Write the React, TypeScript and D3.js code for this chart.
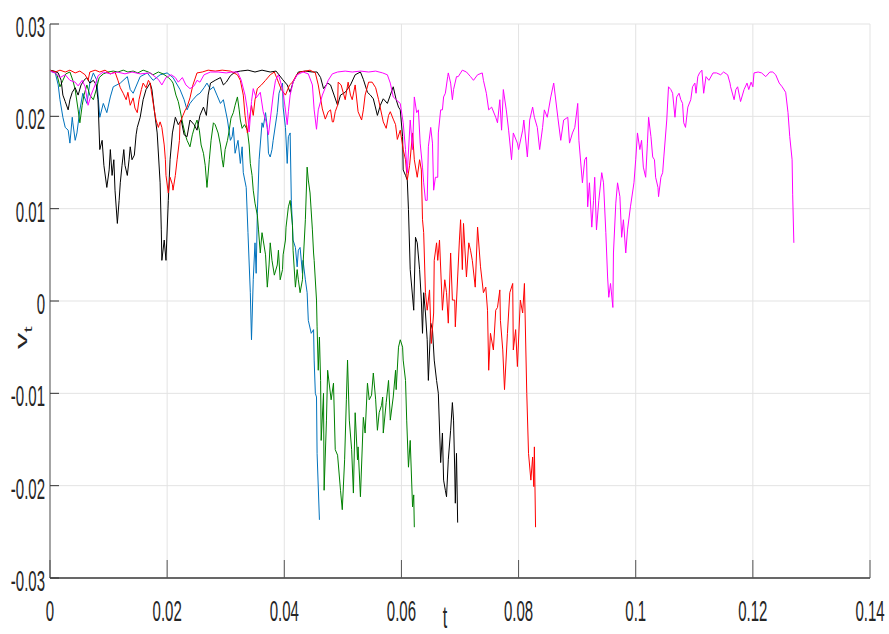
import React from "react";
import * as d3 from "d3";

const xTicks = [0, 0.02, 0.04, 0.06, 0.08, 0.1, 0.12, 0.14];
const xTickLabels = ["0", "0.02", "0.04", "0.06", "0.08", "0.1", "0.12", "0.14"];
const yTicks = [-0.03, -0.02, -0.01, 0, 0.01, 0.02, 0.03];
const yTickLabels = ["-0.03", "-0.02", "-0.01", "0", "0.01", "0.02", "0.03"];

const blackSeries: [number, number][] = [
  [0, .0250], [.0007, .0249], [.0014, .0247], [.0019, .0239], [.0022, .0223], [.0026, .0216], [.0031, .0207], [.0034, .0218], [.0038, .0226], [.0043, .0231], [.0048, .0223], [.0053, .0234], [.0058, .0239], [.0063, .0242], [.0068, .0236], [.0074, .0239], [.0079, .0234], [.0082, .0218], [.0085, .0164], [.0089, .0174], [.0092, .0147], [.0097, .0123], [.0101, .0142], [.0103, .0164], [.0106, .0136], [.0109, .0153], [.0111, .0120], [.0115, .0084], [.0118, .0109], [.0120, .0128], [.0123, .0147], [.0126, .0164], [.0128, .0147], [.0132, .0136], [.0135, .0153], [.0137, .0167], [.0140, .0153], [.0144, .0158], [.0147, .0180], [.0149, .0188], [.0154, .0199], [.0159, .0218], [.0164, .0229], [.0171, .0236], [.0174, .0229], [.0178, .0207], [.0183, .0182], [.0188, .0128], [.0190, .0077], [.0191, .0044], [.0195, .0066], [.0198, .0044], [.0202, .0109], [.0205, .0153], [.0209, .0182], [.0214, .0199], [.0219, .0191], [.0224, .0196], [.0229, .0180], [.0234, .0178], [.0239, .0196], [.0246, .0191], [.0251, .0185], [.0256, .0201], [.0262, .0210], [.0267, .0201], [.0270, .0223], [.0274, .0236], [.0282, .0239], [.0291, .0242], [.0296, .0234], [.0301, .0237], [.0308, .0244], [.0316, .0248], [.0325, .0249], [.0338, .0250], [.0350, .0248], [.0362, .0250], [.0376, .0248], [.0386, .0249], [.0397, .0240], [.0405, .0234], [.0410, .0226], [.0415, .0237], [.0424, .0248], [.0436, .0249], [.0448, .0248], [.0456, .0248], [.0462, .0242], [.0467, .0230], [.0474, .0236], [.0479, .0234], [.0485, .0223], [.0491, .0212], [.0496, .0223], [.0504, .0226], [.0513, .0234], [.0521, .0245], [.0530, .0248], [.0535, .0240], [.0542, .0226], [.0547, .0223], [.0552, .0219], [.0559, .0201], [.0564, .0212], [.0569, .0219], [.0576, .0214], [.0581, .0223], [.0586, .0232], [.0591, .0218], [.0595, .0210], [.0598, .0207], [.0602, .0178], [.0603, .0142], [.0607, .0136], [.0610, .0131], [.0612, .0099], [.0615, .0034], [.0621, -.0010], [.0624, .0069], [.0627, .0063], [.0631, .0034], [.0634, .0001], [.0636, -.0035], [.0638, .0009], [.0641, -.0013], [.0644, -.0042], [.0646, -.0086], [.0650, -.0024], [.0653, -.0031], [.0656, -.0064], [.0660, -.0086], [.0663, -.0100], [.0667, -.0175], [.0670, -.0143], [.0672, -.0194], [.0675, -.0205], [.0677, -.0212], [.0680, -.0172], [.0684, -.0140], [.0687, -.0110], [.0689, -.0129], [.0691, -.0183], [.0692, -.0219], [.0694, -.0165], [.0696, -.0240]
];

const redSeries: [number, number][] = [
  [0, .0250], [.0009, .0248], [.0017, .0250], [.0026, .0248], [.0034, .0250], [.0043, .0247], [.0051, .0249], [.0060, .0245], [.0065, .0239], [.0068, .0248], [.0077, .0250], [.0085, .0248], [.0094, .0250], [.0103, .0246], [.0111, .0248], [.0116, .0239], [.0120, .0231], [.0125, .0225], [.0130, .0218], [.0133, .0226], [.0137, .0212], [.0142, .0220], [.0145, .0209], [.0149, .0204], [.0152, .0218], [.0156, .0229], [.0159, .0236], [.0164, .0231], [.0168, .0239], [.0171, .0236], [.0174, .0223], [.0178, .0207], [.0181, .0196], [.0185, .0188], [.0188, .0194], [.0191, .0188], [.0195, .0169], [.0197, .0153], [.0198, .0136], [.0202, .0117], [.0205, .0134], [.0209, .0126], [.0210, .0120], [.0214, .0136], [.0217, .0153], [.0221, .0174], [.0222, .0193], [.0227, .0201], [.0231, .0207], [.0234, .0210], [.0239, .0220], [.0244, .0234], [.0251, .0247], [.0260, .0248], [.0270, .0250], [.0282, .0249], [.0294, .0250], [.0308, .0249], [.0320, .0245], [.0325, .0239], [.0330, .0223], [.0333, .0201], [.0337, .0182], [.0340, .0196], [.0344, .0212], [.0347, .0201], [.0350, .0218], [.0354, .0230], [.0361, .0234], [.0368, .0239], [.0376, .0245], [.0383, .0248], [.0390, .0237], [.0395, .0229], [.0402, .0223], [.0409, .0234], [.0414, .0237], [.0421, .0245], [.0427, .0248], [.0436, .0249], [.0444, .0250], [.0453, .0247], [.0458, .0234], [.0465, .0208], [.0470, .0197], [.0475, .0205], [.0479, .0207], [.0482, .0194], [.0484, .0194], [.0487, .0205], [.0491, .0212], [.0492, .0237], [.0497, .0234], [.0504, .0218], [.0509, .0237], [.0513, .0223], [.0516, .0218], [.0521, .0234], [.0526, .0205], [.0532, .0196], [.0535, .0207], [.0538, .0223], [.0544, .0237], [.0550, .0237], [.0556, .0231], [.0561, .0218], [.0564, .0209], [.0569, .0194], [.0574, .0187], [.0578, .0201], [.0581, .0205], [.0586, .0197], [.0590, .0191], [.0593, .0175], [.0598, .0185], [.0603, .0164], [.0607, .0153], [.0610, .0131], [.0614, .0147], [.0619, .0182], [.0622, .0153], [.0627, .0134], [.0631, .0153], [.0634, .0142], [.0636, .0088], [.0638, .0074], [.0641, .0009], [.0644, -.0010], [.0648, .0012], [.0651, -.0046], [.0655, -.0013], [.0656, .0044], [.0660, .0063], [.0662, .0044], [.0665, .0066], [.0670, -.0010], [.0674, .0023], [.0677, .0009], [.0680, -.0024], [.0684, .0052], [.0687, .0001], [.0691, .0001], [.0692, -.0028], [.0696, .0026], [.0699, .0066], [.0701, .0088], [.0704, .0034], [.0706, .0084], [.0711, .0026], [.0715, .0063], [.0718, .0055], [.0721, .0044], [.0726, .0015], [.0730, .0080], [.0735, .0037], [.0740, .0009], [.0744, .0015], [.0747, -.0010], [.0749, -.0075], [.0752, -.0035], [.0757, -.0053], [.0761, -.0010], [.0764, -.0007], [.0768, .0012], [.0769, -.0021], [.0773, -.0053], [.0776, -.0096], [.0781, -.0035], [.0785, .0009], [.0790, .0019], [.0791, -.0053], [.0795, -.0031], [.0798, -.0071], [.0803, .0001], [.0807, -.0013], [.0810, .0019], [.0814, -.0100], [.0817, -.0165], [.0821, -.0194], [.0824, -.0169], [.0826, -.0201], [.0827, -.0158], [.0829, -.0245]
];

const greenSeries: [number, number][] = [
  [0, .0250], [.0007, .0248], [.0012, .0245], [.0017, .0232], [.0022, .0239], [.0027, .0246], [.0034, .0248], [.0039, .0239], [.0043, .0229], [.0048, .0207], [.0051, .0193], [.0055, .0212], [.0058, .0223], [.0063, .0234], [.0068, .0223], [.0074, .0218], [.0079, .0229], [.0084, .0242], [.0091, .0246], [.0099, .0248], [.0108, .0249], [.0116, .0248], [.0125, .0250], [.0133, .0248], [.0142, .0249], [.0150, .0247], [.0159, .0250], [.0168, .0248], [.0176, .0245], [.0185, .0248], [.0193, .0246], [.0202, .0242], [.0207, .0239], [.0210, .0236], [.0215, .0223], [.0219, .0216], [.0222, .0207], [.0227, .0191], [.0231, .0180], [.0234, .0174], [.0239, .0167], [.0243, .0180], [.0248, .0191], [.0251, .0196], [.0255, .0185], [.0258, .0169], [.0262, .0160], [.0265, .0147], [.0268, .0123], [.0272, .0153], [.0275, .0174], [.0279, .0193], [.0282, .0191], [.0287, .0182], [.0291, .0169], [.0294, .0153], [.0296, .0145], [.0299, .0164], [.0303, .0174], [.0306, .0185], [.0309, .0198], [.0313, .0204], [.0316, .0212], [.0320, .0221], [.0323, .0207], [.0325, .0196], [.0328, .0187], [.0332, .0191], [.0337, .0185], [.0340, .0169], [.0342, .0149], [.0345, .0136], [.0347, .0120], [.0350, .0106], [.0354, .0093], [.0356, .0077], [.0359, .0052], [.0362, .0074], [.0364, .0066], [.0368, .0050], [.0371, .0015], [.0374, .0039], [.0376, .0063], [.0379, .0044], [.0383, .0028], [.0388, .0039], [.0390, .0055], [.0393, .0023], [.0397, .0034], [.0398, .0050], [.0402, .0066], [.0403, .0080], [.0407, .0102], [.0410, .0109], [.0414, .0082], [.0415, .0055], [.0419, .0015], [.0422, .0034], [.0424, .0023], [.0427, .0009], [.0431, .0023], [.0432, .0039], [.0436, .0088], [.0439, .0145], [.0441, .0131], [.0444, .0117], [.0448, .0077], [.0450, .0052], [.0451, .0044], [.0455, .0001], [.0456, -.0028], [.0458, -.0075], [.0460, -.0039], [.0462, -.0086], [.0463, -.0151], [.0467, -.0100], [.0468, -.0205], [.0472, -.0129], [.0474, -.0075], [.0477, -.0091], [.0480, -.0107], [.0484, -.0089], [.0487, -.0161], [.0491, -.0167], [.0496, -.0205], [.0499, -.0226], [.0503, -.0172], [.0506, -.0107], [.0508, -.0064], [.0511, -.0129], [.0515, -.0161], [.0518, -.0208], [.0521, -.0121], [.0525, -.0172], [.0526, -.0158], [.0530, -.0212], [.0535, -.0126], [.0538, -.0143], [.0542, -.0089], [.0545, -.0107], [.0549, -.0102], [.0552, -.0078], [.0556, -.0107], [.0559, -.0140], [.0562, -.0121], [.0566, -.0113], [.0568, -.0104], [.0569, -.0143], [.0574, -.0110], [.0578, -.0086], [.0581, -.0129], [.0586, -.0104], [.0590, -.0075], [.0591, -.0096], [.0595, -.0050], [.0598, -.0042], [.0602, -.0050], [.0603, -.0064], [.0607, -.0086], [.0609, -.0129], [.0612, -.0180], [.0615, -.0151], [.0619, -.0223], [.0621, -.0210], [.0622, -.0245]
];

const blueSeries: [number, number][] = [
  [0, .0249], [.0009, .0247], [.0014, .0234], [.0017, .0218], [.0022, .0199], [.0026, .0188], [.0031, .0185], [.0034, .0171], [.0038, .0199], [.0039, .0193], [.0043, .0174], [.0046, .0182], [.0051, .0207], [.0056, .0225], [.0063, .0214], [.0068, .0236], [.0074, .0247], [.0080, .0239], [.0085, .0199], [.0091, .0214], [.0097, .0204], [.0103, .0221], [.0108, .0232], [.0120, .0236], [.0132, .0243], [.0137, .0229], [.0142, .0225], [.0154, .0243], [.0166, .0247], [.0176, .0239], [.0188, .0245], [.0200, .0247], [.0210, .0242], [.0222, .0229], [.0229, .0218], [.0234, .0207], [.0239, .0214], [.0244, .0218], [.0251, .0223], [.0256, .0225], [.0263, .0231], [.0268, .0236], [.0274, .0229], [.0279, .0232], [.0285, .0223], [.0291, .0214], [.0296, .0218], [.0303, .0196], [.0308, .0174], [.0311, .0178], [.0313, .0188], [.0316, .0160], [.0321, .0174], [.0325, .0149], [.0328, .0167], [.0330, .0139], [.0335, .0123], [.0338, .0074], [.0342, .0009], [.0344, -.0042], [.0347, .0023], [.0350, .0063], [.0352, .0030], [.0354, .0095], [.0357, .0153], [.0362, .0193], [.0364, .0188], [.0368, .0204], [.0371, .0188], [.0373, .0160], [.0376, .0156], [.0379, .0164], [.0381, .0174], [.0388, .0204], [.0391, .0225], [.0397, .0236], [.0398, .0210], [.0402, .0188], [.0405, .0149], [.0407, .0178], [.0410, .0182], [.0412, .0109], [.0415, .0066], [.0419, .0058], [.0422, .0037], [.0424, .0055], [.0427, .0058], [.0431, .0030], [.0432, .0044], [.0436, .0023], [.0439, .0009], [.0441, -.0021], [.0446, -.0035], [.0450, -.0031], [.0451, -.0064], [.0453, -.0100], [.0455, -.0104], [.0456, -.0165], [.0460, -.0237]
];

const magentaSeries: [number, number][] = [
  [0, .0249], [.0009, .0247], [.0017, .0242], [.0026, .0245], [.0034, .0239], [.0043, .0237], [.0048, .0233], [.0055, .0239], [.0060, .0232], [.0065, .0212], [.0070, .0223], [.0077, .0234], [.0082, .0244], [.0091, .0248], [.0103, .0246], [.0115, .0248], [.0128, .0246], [.0140, .0248], [.0154, .0246], [.0171, .0247], [.0185, .0240], [.0191, .0234], [.0198, .0242], [.0207, .0245], [.0214, .0242], [.0219, .0237], [.0226, .0242], [.0232, .0234], [.0239, .0230], [.0246, .0233], [.0251, .0239], [.0256, .0237], [.0263, .0245], [.0274, .0248], [.0287, .0248], [.0301, .0247], [.0311, .0248], [.0320, .0248], [.0326, .0240], [.0333, .0223], [.0337, .0207], [.0340, .0183], [.0344, .0216], [.0347, .0230], [.0352, .0220], [.0359, .0226], [.0364, .0205], [.0369, .0194], [.0373, .0180], [.0376, .0196], [.0381, .0223], [.0385, .0239], [.0390, .0245], [.0397, .0230], [.0402, .0207], [.0405, .0191], [.0407, .0205], [.0410, .0223], [.0415, .0237], [.0422, .0245], [.0432, .0248], [.0441, .0246], [.0448, .0234], [.0451, .0207], [.0455, .0186], [.0458, .0207], [.0465, .0223], [.0470, .0231], [.0475, .0239], [.0482, .0246], [.0491, .0248], [.0504, .0249], [.0516, .0248], [.0530, .0249], [.0544, .0248], [.0556, .0249], [.0568, .0247], [.0576, .0245], [.0581, .0236], [.0586, .0221], [.0591, .0218], [.0598, .0214], [.0603, .0193], [.0607, .0164], [.0610, .0139], [.0615, .0196], [.0619, .0164], [.0622, .0221], [.0626, .0204], [.0629, .0207], [.0632, .0171], [.0636, .0145], [.0638, .0128], [.0641, .0109], [.0644, .0109], [.0646, .0167], [.0650, .0188], [.0653, .0171], [.0655, .0120], [.0658, .0134], [.0662, .0134], [.0663, .0182], [.0667, .0207], [.0670, .0207], [.0672, .0221], [.0675, .0225], [.0679, .0243], [.0680, .0247], [.0684, .0236], [.0687, .0218], [.0689, .0229], [.0694, .0243], [.0697, .0243], [.0701, .0247], [.0704, .0250], [.0711, .0248], [.0718, .0243], [.0723, .0239], [.0730, .0245], [.0738, .0247], [.0740, .0239], [.0745, .0225], [.0749, .0207], [.0754, .0210], [.0761, .0199], [.0764, .0193], [.0768, .0218], [.0771, .0185], [.0774, .0229], [.0779, .0207], [.0783, .0185], [.0788, .0153], [.0791, .0182], [.0798, .0171], [.0800, .0164], [.0807, .0185], [.0809, .0196], [.0815, .0156], [.0819, .0196], [.0824, .0210], [.0827, .0199], [.0832, .0188], [.0836, .0164], [.0841, .0188], [.0844, .0207], [.0849, .0199], [.0855, .0221], [.0860, .0236], [.0867, .0199], [.0872, .0174], [.0877, .0196], [.0884, .0199], [.0887, .0171], [.0892, .0182], [.0896, .0188], [.0901, .0214], [.0903, .0174], [.0909, .0128], [.0913, .0153], [.0916, .0156], [.0918, .0102], [.0921, .0128], [.0925, .0080], [.0928, .0109], [.0930, .0134], [.0933, .0077], [.0937, .0109], [.0942, .0139], [.0945, .0128], [.0949, .0074], [.0952, .0026], [.0954, .0004], [.0957, .0019], [.0961, -.0007], [.0962, .0052], [.0966, .0106], [.0969, .0128], [.0973, .0113], [.0976, .0069], [.0979, .0088], [.0983, .0052], [.0986, .0077], [.0991, .0102], [.0997, .0128], [.1000, .0153], [.1003, .0182], [.1007, .0164], [.1010, .0174], [.1013, .0145], [.1017, .0134], [.1020, .0171], [.1022, .0199], [.1026, .0178], [.1029, .0156], [.1032, .0153], [.1034, .0134], [.1038, .0123], [.1039, .0113], [.1043, .0134], [.1046, .0139], [.1048, .0156], [.1053, .0196], [.1056, .0232], [.1060, .0229], [.1063, .0225], [.1067, .0199], [.1070, .0221], [.1074, .0225], [.1077, .0218], [.1080, .0214], [.1082, .0193], [.1085, .0188], [.1089, .0210], [.1094, .0218], [.1097, .0232], [.1101, .0236], [.1103, .0225], [.1106, .0243], [.1109, .0247], [.1113, .0250], [.1116, .0225], [.1120, .0243], [.1125, .0239], [.1132, .0247], [.1138, .0247], [.1145, .0245], [.1150, .0248], [.1157, .0245], [.1161, .0236], [.1162, .0232], [.1168, .0218], [.1171, .0229], [.1174, .0232], [.1179, .0216], [.1185, .0229], [.1190, .0236], [.1193, .0229], [.1197, .0237], [.1200, .0232], [.1202, .0247], [.1209, .0248], [.1215, .0247], [.1222, .0243], [.1229, .0248], [.1234, .0248], [.1239, .0245], [.1245, .0236], [.1250, .0232], [.1256, .0226], [.1260, .0204], [.1263, .0178], [.1267, .0153], [.1268, .0115], [.1270, .0063]
];

const seriesList = [
  { name: "blue", data: blueSeries, color: "#0072bd" },
  { name: "green", data: greenSeries, color: "#008000" },
  { name: "black", data: blackSeries, color: "#000000" },
  { name: "red", data: redSeries, color: "#ff0000" },
  { name: "magenta", data: magentaSeries, color: "#ff00ff" },
];

const W = 889;
const H = 634;
const left = 50;
const right = 870;
const top = 24;
const bottom = 578;
const FONT = "'Liberation Sans', Arial, sans-serif";
const SQ = 0.5;

export default function App() {
  const x = d3.scaleLinear().domain([0, 0.14]).range([left, right]);
  const y = d3.scaleLinear().domain([-0.03, 0.03]).range([bottom, top]);
  const line = d3
    .line<[number, number]>()
    .x((d) => x(d[0]))
    .y((d) => y(d[1]));

  return (
    <svg
      width={W}
      height={H}
      style={{ position: "absolute", left: 0, top: 0, background: "#fff" }}
    >
      <rect x={0} y={0} width={W} height={H} fill="#fff" />
      {xTicks.map((t) => (
        <line key={"gx" + t} x1={x(t)} x2={x(t)} y1={top} y2={bottom} stroke="#e3e3e3" strokeWidth={1} />
      ))}
      {yTicks.map((t) => (
        <line key={"gy" + t} x1={left} x2={right} y1={y(t)} y2={y(t)} stroke="#e3e3e3" strokeWidth={1} />
      ))}
      {seriesList.map((s) => (
        <path key={s.name} d={line(s.data) || ""} fill="none" stroke={s.color} strokeWidth={1} strokeLinejoin="round" />
      ))}
      <line x1={left} x2={left} y1={top} y2={bottom} stroke="#8a8a8a" strokeWidth={1.5} />
      <line x1={left} x2={right} y1={bottom} y2={bottom} stroke="#3a3a3a" strokeWidth={1.5} />
      {xTicks.map((t) => (
        <line key={"tx" + t} x1={x(t)} x2={x(t)} y1={bottom} y2={bottom - 18} stroke="#555" strokeWidth={1} />
      ))}
      {yTicks.map((t) => (
        <line key={"ty" + t} x1={left} x2={left + 9} y1={y(t)} y2={y(t)} stroke="#333" strokeWidth={1} />
      ))}
      {xTicks.map((t, i) => (
        <g key={"lx" + t} transform={`translate(${x(t)},${621}) scale(${SQ},1)`}>
          <text textAnchor="middle" fontFamily={FONT} fontSize={30} fill="#262626">
            {xTickLabels[i]}
          </text>
        </g>
      ))}
      {yTicks.map((t, i) => (
        <g key={"ly" + t} transform={`translate(${45},${y(t) + 13}) scale(${SQ},1)`}>
          <text textAnchor="end" fontFamily={FONT} fontSize={30} fill="#262626">
            {yTickLabels[i]}
          </text>
        </g>
      ))}
      <g transform={`translate(445,628) scale(${SQ},1)`}>
        <text textAnchor="middle" fontFamily={FONT} fontSize={32} fill="#262626">
          t
        </text>
      </g>
      <g transform={`translate(27,349) scale(${SQ},1) rotate(-90)`}>
        <text fontFamily={FONT} fontSize={33} fill="#262626">
          v
          <tspan fontSize={22} dy={10}>
            t
          </tspan>
        </text>
      </g>
    </svg>
  );
}
